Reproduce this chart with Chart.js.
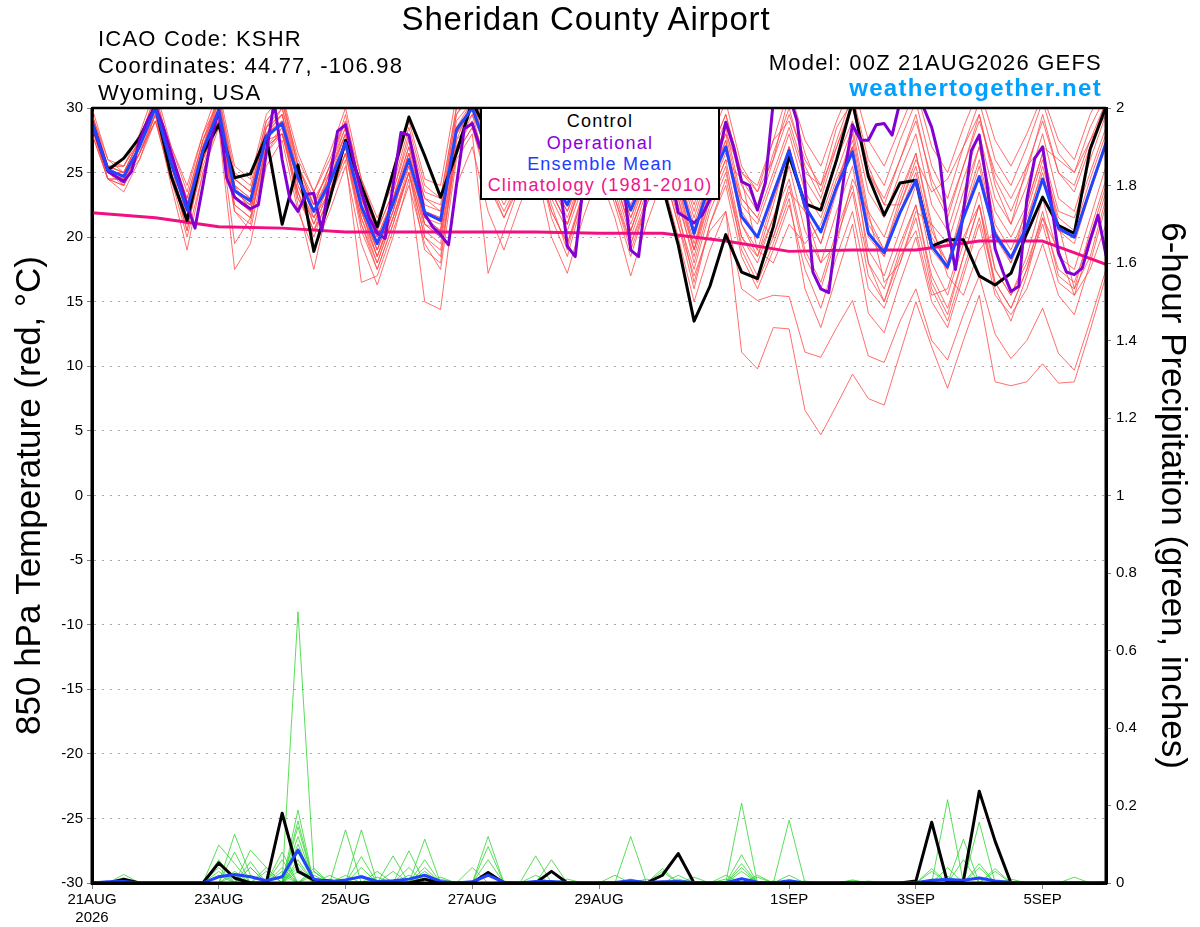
<!DOCTYPE html>
<html><head><meta charset="utf-8">
<script src="https://cdn.jsdelivr.net/npm/chart.js@4.4.1/dist/chart.umd.min.js"></script>
<style>
body{margin:0;background:#fff;}
#wrap{position:relative;width:1200px;height:927px;font-family:'Liberation Sans',Arial,Helvetica,sans-serif;overflow:hidden;}
#c{position:absolute;left:0;top:0;}
.t{position:absolute;white-space:nowrap;color:#000;line-height:1;}
#leg{position:absolute;left:480px;top:107px;width:236px;height:89px;border:2px solid #000;background:#fff;}
#leg div{position:absolute;left:0;width:100%;text-align:center;font-size:18px;letter-spacing:1.2px;line-height:1;white-space:nowrap;}
</style></head><body>
<div id="wrap">
<canvas id="c" width="1200" height="927"></canvas>
<div class="t" style="left:0;width:1172px;text-align:center;top:2px;font-size:33px;letter-spacing:0.8px;">Sheridan County Airport</div>
<div class="t" style="left:98px;top:28px;font-size:22px;letter-spacing:1.2px;">ICAO Code: KSHR</div>
<div class="t" style="left:98px;top:55px;font-size:22px;letter-spacing:1.2px;">Coordinates: 44.77, -106.98</div>
<div class="t" style="left:98px;top:82px;font-size:22px;letter-spacing:1.2px;">Wyoming, USA</div>
<div class="t" style="right:98px;top:52px;font-size:22px;letter-spacing:1.2px;">Model: 00Z 21AUG2026 GEFS</div>
<div class="t" style="right:98px;top:76px;font-size:24px;font-weight:bold;letter-spacing:1.3px;color:#00a0ff;">weathertogether.net</div>
<div id="leg">
<div style="top:3px;color:#000;">Control</div>
<div style="top:25px;color:#8a00dc;">Operational</div>
<div style="top:46px;color:#1e3cff;">Ensemble Mean</div>
<div style="top:67px;color:#f0148c;">Climatology (1981-2010)</div>
</div>
</div>
<script>
// ---------- x axis ticks (forecast hour from 00Z 21AUG2026) ----------
const xTickHours = [0, 48, 96, 144, 192, 264, 312, 360];
const xTickLabels = [['21AUG', '2026'], '23AUG', '25AUG', '27AUG', '29AUG', '1SEP', '3SEP', '5SEP'];

// ---------- 850 hPa temperature, 6-hourly (65 steps, 0..384 h) ----------
const controlTemp = [28.9,25.2,26.1,27.7,30.2,24.7,21.3,26.5, 28.7,24.6,24.9,27.8,21.0,25.6,18.9,22.9,
  27.5,24.0,20.8,25.0,29.3,26.3,23.1,26.5, 30.5,28.0,26.0,28.0,27.0,25.0,26.0,29.0,
  27.0,25.0,26.0,28.0,24.0,19.4,13.5,16.2, 20.2,17.3,16.8,20.8,26.3,22.6,22.1,26.0,
  30.5,24.7,21.7,24.2,24.4,19.3,19.8,19.8, 17.0,16.3,17.2,20.3,23.1,20.9,20.3,26.8, 30.1];

const meanTemp = [28.9,25.2,24.7,27.0,30.0,25.7,22.1,26.7, 29.8,23.6,22.8,27.8,28.8,24.6,22.0,24.2,
  27.3,22.4,19.5,22.6,26.0,21.9,21.3,28.3, 30.0,26.5,24.0,26.0,28.0,24.5,22.5,25.5,
  28.0,25.5,22.1,25.0,27.5,24.5,20.3,24.2, 27.0,21.6,20.0,23.4,26.7,22.4,20.4,23.9,
  26.6,20.3,18.8,21.9,24.4,19.3,17.7,21.5, 24.7,20.2,18.4,20.8,24.5,20.7,20.0,23.7, 27.3];

// operational run, 3-hourly (129 steps)
const operationalTemp = [28.8,27.0,25.1,24.7,24.3,25.1,27.5,29.0, 30.1,28.5,26.5,24.5,22.5,20.7,24.0,27.5,
  29.8,24.6,23.1,22.6,22.2,22.5,26.5,30.5, 26.0,22.9,22.0,23.3,23.4,20.5,24.5,28.2,
  28.7,26.0,23.5,21.5,20.3,19.9,24.0,28.1, 27.9,25.0,21.8,20.8,20.2,19.4,24.0,28.4,
  28.8,26.9,27.5,28.5,29.0,28.0,26.5,27.5, 28.5,28.0,26.5,24.5,19.3,18.5,24.0,27.5,
  28.5,29.0,28.0,25.0,19.0,18.5,23.5,27.5, 28.0,25.0,21.9,21.5,21.1,21.7,22.9,26.0,
  28.9,27.0,24.3,24.0,22.1,24.2,30.5,31.0, 31.0,29.0,24.0,17.3,16.0,15.7,20.5,25.0,
  28.7,27.5,27.5,28.7,28.8,27.9,30.5,32.0, 31.5,30.0,28.5,26.0,20.8,17.5,22.0,26.7,
  27.9,24.0,19.1,17.3,15.8,16.2,22.9,26.1, 27.0,23.0,18.8,17.3,17.1,17.6,19.8,21.7, 18.6];

// climatology 1981-2010, daily
const climatologyTemp = [21.9,21.5,20.8,20.7,20.4,20.4,20.4,20.4,20.3,20.3,19.7,18.9,19.0,19.0,19.7,19.7,17.9];

// ensemble members, 6-hourly
const memberTemp01 = [29.5,25.5,25.0,27.5,31.0,26.5,23.0,27.5, 31.0,25.0,24.0,29.0,30.5,26.0,23.5,26.0, 29.0,24.5,21.5,24.0,28.5,24.0,23.0,30.0, 31.5,28.0,26.0,28.0,30.0,26.5,24.5,27.5, 30.0,27.5,24.0,27.0,30.0,26.0,23.0,26.5, 29.5,25.0,23.5,26.0,29.5,26.0,24.0,27.0, 30.0,25.0,23.0,26.0,29.0,24.5,22.0,25.5, 29.0,25.0,23.0,25.5,29.0,25.0,23.5,27.0, 30.5];
const memberTemp02 = [28.5,25.0,24.0,26.5,29.5,25.0,21.0,26.0, 29.0,22.5,21.5,27.0,28.0,23.5,20.5,23.0, 26.5,21.0,18.0,21.5,25.0,20.0,19.0,26.5, 28.5,24.5,21.5,24.0,26.0,22.0,19.5,23.0, 26.0,23.0,19.5,22.5,25.5,21.0,17.0,20.5, 22.0,11.1,9.8,13.0,12.9,6.6,4.7,7.0, 9.4,7.5,7.0,11.0,15.0,11.5,8.3,12.0, 15.5,8.8,8.5,8.8,10.2,8.7,8.8,12.8, 17.0];
const memberTemp03 = [28.0,24.5,24.5,26.0,29.0,24.5,20.0,25.0, 28.5,17.5,19.5,25.5,27.5,22.0,19.0,22.0, 25.5,19.5,16.3,20.0,24.5,15.0,14.4,24.0, 27.0,22.0,19.0,22.5,25.5,20.0,17.2,21.5, 25.0,21.5,17.0,21.0,24.5,20.0,15.0,19.0, 22.0,16.0,15.1,15.5,15.4,11.1,10.7,13.0, 15.1,10.8,10.3,13.5,16.0,12.0,10.5,14.0, 17.0,12.5,10.6,12.0,14.5,11.0,9.7,13.5, 17.5];
const memberTemp04 = [29.0,25.5,25.5,27.5,30.5,25.0,21.5,26.0, 30.0,23.0,22.0,28.0,29.5,24.0,21.0,23.5, 27.5,22.0,18.5,22.0,26.5,21.0,20.0,27.5, 30.5,26.0,23.0,25.5,27.5,23.5,21.0,24.5, 27.5,24.5,20.5,24.0,27.0,23.0,18.0,22.5, 25.5,19.0,16.5,19.5,23.0,16.0,13.0,17.0, 21.0,14.1,12.6,16.5,20.0,15.0,13.0,17.0, 21.0,15.5,14.0,16.0,19.5,15.5,14.0,18.0, 22.5];
const memberTemp05 = [29.5,26.0,25.0,27.5,30.5,27.0,24.0,28.0, 30.5,24.5,23.5,28.5,31.0,25.5,22.5,25.5, 29.5,23.5,20.5,23.5,27.5,23.0,22.5,29.5, 31.0,27.5,25.5,27.0,29.5,26.0,24.0,27.0, 30.0,27.0,23.0,26.5,29.5,26.0,22.0,26.0, 29.0,24.0,22.0,26.0,31.0,26.5,23.5,27.5, 31.0,26.0,24.0,27.5,30.5,25.5,23.0,27.0, 30.5,26.0,24.0,27.0,30.5,26.5,25.0,28.5, 31.0];
const memberTemp06 = [28.5,25.0,24.5,26.5,29.0,25.5,22.5,26.5, 29.0,23.0,22.5,27.5,28.0,24.5,22.5,24.5, 27.0,22.0,19.0,22.5,25.5,21.5,20.5,28.0, 29.5,26.5,24.5,26.0,27.5,24.0,22.0,25.0, 27.5,25.0,21.5,24.5,27.0,24.0,19.5,23.5, 26.5,23.0,21.5,20.0,23.5,22.0,18.0,19.5, 24.5,22.0,16.5,18.0,22.0,21.0,17.0,15.5, 19.0,20.5,18.0,22.5,26.5,21.0,16.0,18.5, 23.0];
const memberTemp07 = [29.0,25.0,25.0,27.0,30.0,26.0,21.5,27.0, 30.5,24.0,23.0,28.0,29.0,25.0,22.0,25.0, 28.0,23.0,19.5,23.0,26.5,22.5,22.0,29.0, 30.5,27.0,24.5,26.5,28.5,25.0,23.0,26.0, 28.5,26.0,22.5,25.5,28.0,25.0,21.0,25.0, 28.0,22.5,21.0,24.5,28.0,23.5,21.5,25.0, 28.5,22.0,20.0,23.5,26.5,21.0,19.5,23.5, 27.0,22.0,20.0,22.5,26.5,22.0,21.5,25.0, 28.5];
const memberTemp08 = [28.0,24.5,23.5,26.0,29.5,24.0,19.0,25.0, 29.0,22.0,20.5,26.5,28.5,22.5,17.5,23.0, 26.0,16.5,17.0,20.5,24.0,19.5,17.5,26.0, 28.0,17.2,20.5,24.0,26.5,21.5,18.5,23.0, 26.5,22.5,18.5,22.5,26.0,21.5,17.5,22.0, 25.0,20.0,18.0,21.5,24.5,19.0,16.5,20.5, 24.0,18.0,16.0,19.5,22.5,16.5,14.0,18.5, 22.5,16.5,14.5,17.5,22.0,17.0,16.0,20.5, 24.5];
const memberTemp09 = [29.0,25.5,24.0,27.0,30.5,26.0,22.0,27.0, 30.0,24.5,23.5,28.5,30.0,25.5,23.0,25.0, 28.5,23.0,20.0,23.0,27.0,23.0,22.0,29.5, 31.5,27.5,25.0,27.0,29.0,25.5,23.5,26.5, 29.0,26.5,23.0,26.0,28.5,25.5,21.5,25.5, 28.5,23.0,21.5,25.0,28.5,24.5,22.5,26.0, 29.0,23.5,21.5,25.0,28.0,22.5,20.5,24.5, 28.0,23.0,21.0,24.0,28.0,23.0,22.0,26.0, 29.5];
const memberTemp10 = [28.5,24.5,24.0,26.5,29.5,25.0,20.5,26.0, 29.5,23.0,22.0,27.0,28.5,23.5,20.0,23.5, 27.0,21.5,18.0,21.5,25.5,20.5,19.5,27.0, 29.5,25.0,22.5,25.0,27.0,23.0,20.5,24.0, 27.0,24.0,20.0,23.5,26.5,22.5,18.5,23.0, 26.0,24.5,19.0,18.0,21.0,19.5,21.0,24.5, 27.0,18.0,15.0,18.5,20.5,15.5,16.0,20.0, 22.5,16.0,13.5,17.0,21.5,19.0,15.5,17.5, 21.0];
const memberTemp11 = [30.0,26.0,25.5,28.0,31.5,27.0,23.5,28.0, 31.5,25.5,24.5,29.5,31.0,26.5,23.5,26.5, 30.0,24.5,21.0,24.5,29.0,24.5,24.0,31.0, 32.0,28.5,26.5,28.5,30.5,27.0,25.0,28.0, 31.0,28.0,24.5,27.5,30.5,27.5,23.5,27.5, 30.5,25.5,23.5,27.5,31.5,27.5,25.5,29.0, 32.0,27.5,25.5,28.5,31.5,27.0,25.0,28.5, 31.5,27.5,25.5,28.0,31.0,27.5,26.0,29.5, 32.0];
const memberTemp12 = [29.0,25.0,24.5,27.0,30.0,25.5,21.0,26.5, 29.5,23.5,22.5,27.5,29.0,24.0,21.5,24.0, 27.5,22.5,19.0,22.0,26.0,21.5,21.0,28.0, 30.0,26.0,23.5,26.0,27.5,24.0,21.5,25.0, 28.0,25.0,21.0,24.5,27.5,24.0,19.0,24.0, 27.5,21.0,19.0,23.0,27.0,22.0,19.5,23.5, 27.0,20.5,18.5,22.0,25.0,19.5,17.5,21.5, 25.5,20.0,18.0,21.0,25.5,21.0,20.0,23.5, 27.5];
const memberTemp13 = [29.0,25.5,25.5,27.5,30.5,26.0,22.5,27.0, 30.0,22.0,21.0,27.5,29.0,23.0,20.5,24.0, 27.0,21.0,17.5,21.0,25.0,19.0,18.0,27.5, 29.0,24.5,22.0,24.5,27.0,22.5,19.0,23.5, 27.0,23.5,19.5,23.0,26.5,22.0,16.5,21.0, 24.0,18.5,16.0,19.0,22.5,17.5,14.5,18.5, 22.0,16.0,14.5,18.0,21.5,16.0,13.5,17.5, 21.5,16.5,14.5,17.5,21.0,16.5,15.5,19.5, 23.5];
const memberTemp14 = [28.5,25.0,24.5,27.0,29.5,25.0,20.5,26.5, 30.5,24.0,23.0,28.5,29.5,24.5,21.0,24.5, 28.0,22.5,19.5,23.0,27.0,22.0,21.5,28.5, 30.5,26.5,24.0,26.5,28.5,24.5,22.5,25.5, 28.5,25.5,22.0,25.0,28.0,25.0,20.5,25.0, 28.0,25.0,24.0,27.5,29.0,25.0,24.0,28.5, 30.5,25.5,22.5,22.5,26.0,23.5,24.5,27.0, 29.5,24.0,21.0,25.5,27.0,26.0,25.0,27.5, 29.5];
const memberTemp15 = [29.5,25.5,25.0,27.5,31.0,26.5,22.5,27.5, 30.0,23.5,22.5,28.0,29.5,25.0,22.5,25.5, 28.5,22.0,19.0,22.5,26.5,21.5,20.5,28.5, 30.0,26.5,24.0,26.5,28.0,24.5,22.0,25.5, 28.5,25.5,21.5,25.0,28.0,24.5,20.0,24.5, 27.5,22.0,20.0,23.5,27.0,22.5,20.5,24.0, 27.5,21.0,19.0,22.5,25.5,20.0,18.0,22.0, 26.0,20.5,18.5,21.5,25.0,20.5,19.5,23.5, 27.5];
const memberTemp16 = [28.5,24.5,24.0,26.5,29.5,25.0,21.5,26.0, 29.0,22.5,21.5,27.0,28.0,23.0,21.5,23.5, 26.5,21.5,18.5,21.5,25.0,21.0,20.0,27.0, 29.0,25.5,23.0,25.5,27.0,23.5,21.0,24.5, 27.0,24.5,20.5,24.0,26.5,23.0,19.0,23.0, 26.0,20.0,18.5,21.5,25.5,20.5,18.0,22.0, 25.5,19.0,17.0,20.5,24.0,18.0,15.5,19.5, 23.5,17.5,15.5,18.5,23.0,18.5,17.5,21.5, 25.5];
const memberTemp17 = [29.0,25.0,24.5,27.0,30.5,26.0,22.0,27.0, 31.0,24.5,23.5,29.0,30.5,25.5,22.5,25.5, 29.0,23.5,20.5,23.5,28.0,23.5,23.0,30.0, 31.0,27.0,25.5,27.5,29.5,26.0,24.0,27.0, 29.5,27.0,23.5,26.5,29.0,26.0,22.5,26.5, 29.5,24.5,22.5,26.5,30.0,25.5,23.0,27.0, 30.5,25.0,22.5,26.0,29.5,24.0,21.5,25.5, 29.5,24.5,22.0,25.0,29.5,25.0,24.0,27.5, 30.5];
const memberTemp18 = [28.5,24.5,24.5,26.5,29.0,24.5,21.0,25.5, 29.0,19.5,21.5,26.5,28.0,23.5,20.5,23.0, 26.5,20.5,17.5,21.0,25.0,20.0,18.5,26.5, 28.5,24.0,21.5,24.5,26.5,22.0,19.5,23.5, 26.5,23.0,19.0,22.5,25.5,21.0,16.0,21.0, 24.5,19.5,17.0,20.0,24.0,18.5,16.0,20.0, 23.5,17.0,15.0,19.0,22.5,17.0,14.5,18.5, 22.5,17.5,15.5,18.0,21.5,17.5,16.5,20.0, 24.0];
const memberTemp19 = [29.0,25.5,25.0,27.5,30.0,25.5,22.5,27.0, 30.0,23.5,23.0,28.0,29.0,24.5,22.0,24.5, 27.5,22.5,20.0,23.0,26.0,22.0,21.5,28.5, 30.0,26.0,24.0,26.0,28.0,24.5,22.5,25.5, 28.0,25.5,22.0,25.0,27.5,24.5,20.5,24.5, 27.0,21.5,20.0,23.0,26.5,22.5,20.5,24.0, 27.0,20.0,18.5,22.0,24.5,19.0,17.5,21.5, 24.5,20.0,18.5,21.0,24.5,20.5,20.0,23.5, 27.0];
const memberTemp20 = [29.5,25.5,24.5,27.0,30.5,26.5,23.0,27.5, 30.5,24.0,22.0,28.0,30.0,25.0,21.5,25.0, 28.0,22.0,18.5,22.0,26.0,21.0,20.5,28.0, 30.5,26.0,23.5,26.0,28.0,23.5,21.0,25.0, 28.0,24.5,20.5,24.0,27.5,23.5,19.0,23.5, 27.0,21.0,18.5,22.5,27.0,22.0,19.5,24.0, 28.0,21.5,19.0,23.0,26.5,20.5,18.0,22.5, 27.0,21.0,19.0,22.0,26.0,21.5,20.5,24.5, 28.0];

// ---------- 6-hour precipitation (inches) ----------
const controlPrecip = [0,0,0.01,0,0,0,0,0, 0.052,0.013,0,0,0.18,0.03,0.008,0.005, 0,0,0,0,0,0.01,0,0, 0,0.027,0,0,0,0.03,0,0,
  0,0,0,0,0.02,0.076,0,0, 0,0,0,0,0,0,0,0, 0,0,0,0,0.005,0.157,0,0.006, 0.237,0.108,0,0,0,0,0,0, 0];
const meanPrecip = [0,0.003,0.004,0,0,0,0,0, 0.016,0.022,0.016,0.006,0.016,0.085,0.01,0.003, 0.008,0.016,0.004,0.006,0.01,0.02,0.004,0, 0.003,0.02,0.002,0,0.004,0.004,0.001,0,
  0,0.001,0.006,0.001,0.003,0.004,0.001,0, 0.001,0.011,0.002,0,0.006,0,0,0, 0.001,0,0,0,0.001,0.007,0.009,0.007, 0.013,0.005,0.001,0,0,0,0.001,0, 0];
const memberPrecip01 = [0,0,0,0,0,0,0,0, 0.098,0.05,0,0,0,0.03,0,0, 0,0.068,0,0,0,0.02,0,0, 0,0,0,0,0,0,0,0, 0,0,0.12,0,0,0,0,0, 0,0,0,0,0,0,0,0, 0,0,0,0,0,0,0.04,0, 0,0,0,0,0,0,0,0, 0];
const memberPrecip02 = [0,0,0,0,0,0,0,0, 0,0.126,0.02,0,0,0.188,0,0, 0,0,0.015,0,0,0,0,0, 0,0.02,0,0,0,0,0,0, 0,0,0,0,0,0,0,0, 0.02,0,0,0,0,0,0,0, 0,0,0,0,0,0,0.017,0, 0,0,0,0,0,0,0,0, 0];
const memberPrecip03 = [0,0,0.022,0,0,0,0,0, 0,0,0.055,0,0,0,0,0.02, 0,0,0,0,0.02,0,0,0, 0,0,0,0,0,0,0,0, 0,0.02,0,0,0,0,0,0, 0,0.03,0,0,0,0,0,0, 0,0,0,0,0,0,0,0, 0.157,0,0,0,0,0,0,0, 0];
const memberPrecip04 = [0,0,0,0,0,0,0,0, 0.06,0,0,0,0.06,0,0,0, 0.02,0,0,0,0,0,0,0, 0,0.12,0,0,0,0,0,0, 0,0,0,0,0,0,0,0, 0,0,0,0,0,0.005,0,0, 0,0,0,0,0,0,0,0, 0,0,0,0,0,0,0,0, 0.005];
const memberPrecip05 = [0,0,0,0,0,0,0,0, 0,0.08,0,0,0,0.16,0,0, 0,0,0,0.03,0,0,0,0, 0,0,0.005,0,0,0,0,0, 0,0,0,0,0,0,0,0, 0,0.206,0,0,0,0,0,0, 0,0,0,0,0,0,0,0, 0,0,0,0,0,0,0,0, 0];
const memberPrecip06 = [0,0,0,0,0,0,0,0, 0,0,0.085,0.04,0,0,0.038,0, 0,0,0,0,0,0.06,0,0, 0,0,0,0,0,0,0,0, 0,0,0,0,0.037,0,0,0, 0,0,0,0,0,0,0,0, 0.008,0,0,0,0,0,0,0, 0,0,0,0,0,0,0,0, 0];
const memberPrecip07 = [0,0,0.01,0,0,0,0,0, 0,0,0,0,0,0.70,0.03,0, 0,0,0,0,0,0,0,0, 0,0.06,0,0,0,0,0,0, 0,0,0,0,0,0,0,0, 0,0,0,0.005,0,0,0,0, 0,0,0,0,0,0,0,0, 0.04,0,0,0,0,0,0,0, 0];
const memberPrecip08 = [0,0,0,0,0,0,0,0, 0,0,0.04,0,0,0.145,0,0, 0,0.04,0,0,0,0,0,0, 0,0,0,0,0.07,0,0,0, 0,0,0,0,0,0,0,0, 0,0.05,0,0,0,0,0,0, 0,0,0,0,0,0,0,0, 0,0.03,0,0,0,0,0,0, 0];
const memberPrecip09 = [0,0,0,0,0,0,0,0, 0.04,0,0,0,0.08,0,0.03,0, 0,0,0,0,0,0.03,0,0, 0,0,0,0,0,0,0,0, 0,0,0,0,0,0.01,0,0, 0,0,0,0,0,0,0,0, 0,0,0,0,0.005,0,0,0, 0,0,0,0,0,0,0,0, 0];
const memberPrecip10 = [0,0,0,0,0,0,0,0, 0,0.03,0,0,0,0.08,0,0, 0.137,0,0,0,0,0,0,0, 0,0,0,0,0,0.03,0,0, 0,0,0,0,0,0,0,0, 0,0,0,0,0.162,0,0,0, 0,0,0,0,0,0,0,0, 0,0,0,0,0,0,0,0, 0];
const memberPrecip11 = [0,0,0,0,0,0,0,0, 0,0,0.04,0,0,0.12,0,0, 0,0,0,0,0.083,0,0,0, 0,0,0,0,0,0,0,0, 0,0,0.01,0,0,0,0,0, 0,0,0,0,0.02,0,0,0, 0,0,0,0,0,0,0,0, 0,0,0.01,0,0,0,0,0, 0];
const memberPrecip12 = [0,0,0,0,0,0,0,0, 0.03,0,0,0,0,0.06,0,0, 0,0.02,0,0,0,0,0.015,0, 0,0,0,0,0,0,0,0, 0,0,0,0.01,0,0,0,0, 0,0,0,0,0,0,0,0, 0.006,0,0,0,0,0,0,0, 0,0,0,0,0,0,0.015,0, 0];
const memberPrecip13 = [0,0,0,0,0,0,0,0, 0,0,0,0.04,0,0,0.02,0, 0,0,0,0,0,0,0,0, 0.04,0,0,0,0,0,0,0, 0,0,0,0,0,0,0.015,0, 0,0,0,0,0,0,0,0, 0,0,0,0,0,0.03,0,0, 0,0,0,0,0,0,0,0, 0];
const memberPrecip14 = [0,0,0,0,0,0,0,0, 0,0.02,0,0,0,0.10,0,0, 0,0,0,0,0,0.04,0,0, 0,0,0,0,0.02,0,0,0, 0,0,0,0,0,0,0,0, 0,0.073,0,0,0,0,0,0, 0,0,0,0,0,0,0,0.113, 0,0,0,0,0,0,0,0, 0];
const memberPrecip15 = [0,0,0,0,0,0,0,0, 0.02,0,0,0,0,0,0,0, 0,0.137,0,0,0,0,0,0, 0,0.03,0,0,0,0,0,0, 0,0,0,0,0,0,0,0, 0,0,0.02,0,0,0,0,0, 0,0,0,0,0,0,0,0, 0.05,0,0,0,0,0,0,0, 0];
const memberPrecip16 = [0,0,0,0,0,0,0,0, 0,0,0,0.03,0,0.05,0,0, 0,0,0,0.07,0,0,0,0, 0,0,0,0,0,0,0.01,0, 0,0,0,0,0,0,0,0, 0,0.04,0,0,0,0,0,0, 0,0,0,0,0,0,0,0, 0,0.037,0,0,0,0,0,0, 0];
const memberPrecip17 = [0,0,0,0,0,0,0,0, 0,0,0,0,0.03,0,0,0.01, 0,0,0,0,0,0,0.01,0, 0,0,0,0,0,0,0,0, 0,0,0,0,0.03,0,0,0, 0,0,0,0,0,0,0,0, 0,0,0,0,0,0,0.215,0, 0,0,0,0,0,0,0,0, 0];
const memberPrecip18 = [0,0,0,0,0,0,0,0, 0,0,0,0,0.02,0,0,0, 0,0,0,0,0,0.113,0,0, 0,0,0,0,0,0,0,0, 0,0,0,0,0,0.02,0,0, 0,0,0,0,0,0,0,0, 0,0.005,0,0,0,0,0,0, 0,0,0,0,0,0,0,0, 0];
const memberPrecip19 = [0,0,0,0,0,0,0,0, 0,0,0,0,0.04,0,0,0, 0,0,0.03,0,0,0,0,0, 0,0,0,0,0,0.06,0,0, 0,0,0,0,0,0,0,0, 0,0,0.015,0,0,0,0,0, 0,0,0,0,0,0,0,0.06, 0,0,0,0,0,0,0,0, 0];
const memberPrecip20 = [0,0,0,0,0,0,0,0, 0,0,0,0,0,0.04,0,0, 0,0,0,0,0.04,0,0,0, 0,0.094,0,0,0,0,0,0, 0,0,0,0,0,0,0,0, 0.01,0,0,0,0,0,0,0, 0,0,0,0,0,0.037,0,0, 0,0,0,0,0,0,0,0, 0];

const memberTemps = [memberTemp01,memberTemp02,memberTemp03,memberTemp04,memberTemp05,memberTemp06,memberTemp07,memberTemp08,memberTemp09,memberTemp10,
  memberTemp11,memberTemp12,memberTemp13,memberTemp14,memberTemp15,memberTemp16,memberTemp17,memberTemp18,memberTemp19,memberTemp20];
const memberPrecips = [memberPrecip01,memberPrecip02,memberPrecip03,memberPrecip04,memberPrecip05,memberPrecip06,memberPrecip07,memberPrecip08,memberPrecip09,memberPrecip10,
  memberPrecip11,memberPrecip12,memberPrecip13,memberPrecip14,memberPrecip15,memberPrecip16,memberPrecip17,memberPrecip18,memberPrecip19,memberPrecip20];

// ---------- build datasets ----------
const pts = (arr, stepHours) => arr.map((v, i) => ({ x: i * stepHours, y: v }));
const datasets = [];
memberTemps.forEach((m, k) => datasets.push({ label: 'member ' + (k + 1), data: pts(m, 6), yAxisID: 'yT',
  borderColor: '#ff4a4a', borderWidth: 0.8, order: 10 }));
memberPrecips.forEach((m, k) => datasets.push({ label: 'member precip ' + (k + 1), data: pts(m, 6), yAxisID: 'yP',
  borderColor: '#2fd62f', borderWidth: 0.8, order: 9 }));
datasets.push({ label: 'Climatology (1981-2010)', data: pts(climatologyTemp, 24), yAxisID: 'yT', borderColor: '#f0107f', borderWidth: 3, order: 5 });
datasets.push({ label: 'Mean precip', data: pts(meanPrecip, 6), yAxisID: 'yP', borderColor: '#2244ff', borderWidth: 3, order: 3 });
datasets.push({ label: 'Control precip', data: pts(controlPrecip, 6), yAxisID: 'yP', borderColor: '#000000', borderWidth: 3, order: 4 });
datasets.push({ label: 'Control', data: pts(controlTemp, 6), yAxisID: 'yT', borderColor: '#000000', borderWidth: 3, order: 2 });
datasets.push({ label: 'Operational', data: pts(operationalTemp, 3), yAxisID: 'yT', borderColor: '#8200d2', borderWidth: 3, order: 1 });
datasets.push({ label: 'Ensemble Mean', data: pts(meanTemp, 6), yAxisID: 'yT', borderColor: '#2244ff', borderWidth: 3, order: 0 });

Chart.defaults.font.family = "'Liberation Sans', Arial, Helvetica, sans-serif";
Chart.defaults.color = '#000';

const framePlugin = {
  id: 'frame',
  afterDatasetsDraw(chart) {
    const { ctx, chartArea: a } = chart;
    ctx.save();
    ctx.strokeStyle = '#000';
    ctx.lineWidth = 2.5;
    ctx.beginPath(); ctx.moveTo(a.left, a.top); ctx.lineTo(a.right, a.top); ctx.stroke();
    ctx.lineWidth = 3;
    ctx.beginPath(); ctx.moveTo(a.left, a.top); ctx.lineTo(a.left, a.bottom); ctx.lineTo(a.right, a.bottom); ctx.lineTo(a.right, a.top); ctx.stroke();
    ctx.restore();
  }
};

new Chart(document.getElementById('c'), {
  type: 'line',
  data: { datasets },
  plugins: [framePlugin],
  options: {
    responsive: false, animation: false, devicePixelRatio: 1,
    layout: { padding: { top: 108, left: 0, right: 0, bottom: 0 } },
    plugins: { legend: { display: false }, tooltip: { enabled: false }, title: { display: false } },
    elements: { point: { radius: 0, hoverRadius: 0 }, line: { tension: 0, borderJoinStyle: 'round', borderCapStyle: 'round', fill: false } },
    datasets: { line: { clip: 0 } },
    scales: {
      x: {
        type: 'linear', position: 'bottom', min: 0, max: 384,
        afterBuildTicks: s => { s.ticks = xTickHours.map(v => ({ value: v })); },
        afterFit: s => { s.height = 44; },
        ticks: { autoSkip: false, maxRotation: 0, minRotation: 0, padding: 2, font: { size: 15 }, color: '#000',
          callback: v => { const i = xTickHours.indexOf(v); return i >= 0 ? xTickLabels[i] : ''; } },
        grid: { drawOnChartArea: false, drawTicks: true, tickLength: 6, tickColor: '#808080', tickWidth: 1 },
        border: { display: true, color: '#000', width: 3 }
      },
      yT: {
        type: 'linear', position: 'left', min: -30, max: 30,
        afterFit: s => { s.width = 92; },
        ticks: { stepSize: 5, padding: 4, font: { size: 15 }, color: '#000' },
        grid: { drawOnChartArea: true, color: '#aaaaaa', lineWidth: 1, tickColor: '#808080', tickLength: 5, tickWidth: 1 },
        border: { display: true, color: '#000', width: 3, dash: [2, 6] },
        title: { display: true, text: '850 hPa Temperature (red, °C)', font: { size: 35 }, color: '#000', padding: { top: 9, bottom: 0 } }
      },
      yP: {
        type: 'linear', position: 'right', min: 0, max: 2,
        afterFit: s => { s.width = 94; },
        ticks: { stepSize: 0.2, padding: 5, font: { size: 15 }, color: '#000', callback: v => String(Math.round(v * 10) / 10) },
        grid: { drawOnChartArea: false, tickColor: '#808080', tickLength: 5, tickWidth: 1 },
        border: { display: true, color: '#000', width: 3 },
        title: { display: true, text: '6-hour Precipitation (green, inches)', font: { size: 35 }, color: '#000', padding: { top: 7, bottom: 0 } }
      }
    }
  }
});
</script>
</body></html>
